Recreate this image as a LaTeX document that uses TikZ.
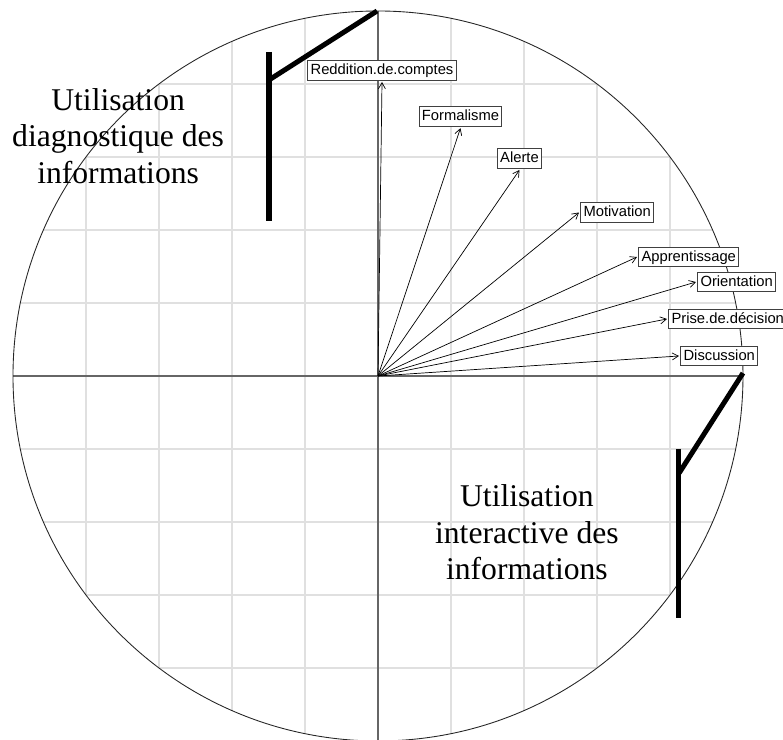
\documentclass[tikz,border=0pt]{standalone}
\usepackage{fontspec}
\setmainfont{Liberation Serif}
\newfontfamily\varfont{Liberation Sans}
\usetikzlibrary{arrows.meta}

\begin{document}
\begin{tikzpicture}[x=7.3cm,y=7.3cm,
	var/.style={draw=black!75,fill=white,line width=0.5pt,font=\varfont\fontsize{8.4}{9}\selectfont,inner xsep=1.6pt,inner ysep=1.3pt,text height=6.6pt,text depth=2pt,outer sep=1pt},
	vec/.style={line width=0.4pt,-{Straight Barb[length=3.5pt,width=4pt]}},
	flag/.style={line width=2.85pt},
	bigtext/.style={align=center,font=\fontsize{18}{20.8}\selectfont}]
	\useasboundingbox (-1.0356,-0.9973) rectangle (1.1096,1.0301);
	
	% grille
	\begin{scope}
		\clip (0,0) circle (1);
		\foreach \k in {-0.8,-0.6,-0.4,-0.2,0.2,0.4,0.6,0.8} {
			\draw[black!12,line width=0.8pt] (\k,-1) -- (\k,1);
			\draw[black!12,line width=0.8pt] (-1,\k) -- (1,\k);
		}
	\end{scope}
	\draw[black!60,line width=0.8pt] (-1,0) -- (1,0);
	\draw[black!60,line width=0.8pt] (0,-1) -- (0,1);
	\draw[black!85,line width=0.5pt] (0,0) circle (1);
	\coordinate (o) at (0,0);
	
	% variables
	\node[var,anchor=south] (redd) at (0.011,0.8055) {Reddition.de.comptes};
	\node[var,anchor=south] (form) at (0.226,0.679) {Formalisme};
	\node[var,anchor=south] (alert) at (0.3877,0.5644) {Alerte};
	\node[var,anchor=west] (motiv) at (0.5507,0.4479) {Motivation};
	\node[var,anchor=west] (appr) at (0.7096,0.326) {Apprentissage};
	\node[var,anchor=west] (orient) at (0.8712,0.2575) {Orientation};
	\node[var,anchor=west] (prise) at (0.7918,0.1562) {Prise.de.décision};
	\node[var,anchor=west] (disc) at (0.8247,0.0548) {Discussion};
	
	\draw[vec] (o) -- (redd.south);
	\draw[vec] (o) -- (form.south);
	\draw[vec] (o) -- (alert.south);
	\draw[vec] (o) -- (motiv.west);
	\draw[vec] (o) -- (appr.west);
	\draw[vec] (o) -- (orient.west);
	\draw[vec] (o) -- (prise.west);
	\draw[vec] (o) -- (disc.west);
	
	% drapeaux
	\draw[flag] (-0.2986,0.8877) -- (-0.2986,0.4247);
	\draw[flag] (-0.2986,0.811) -- (-0.0027,1.0);
	\draw[flag] (0.822,-0.2) -- (0.822,-0.663);
	\draw[flag] (0.825,-0.266) -- (1.0,0.008);
	
	\node[bigtext] (diag) at (-0.712,0.658) {Utilisation\\diagnostique des\\informations};
	\node[bigtext] (inter) at (0.408,-0.429) {Utilisation\\interactive des\\informations};
\end{tikzpicture}
\end{document}
